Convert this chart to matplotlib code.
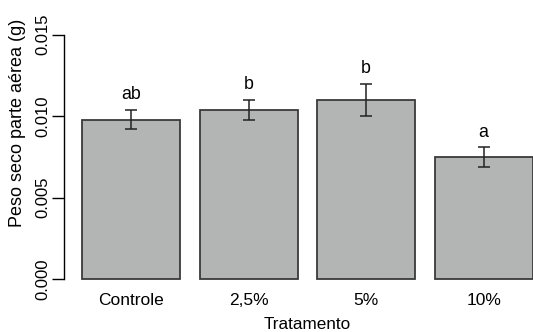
import numpy as np
import matplotlib
matplotlib.use("Agg")
import matplotlib.pyplot as plt

plt.rcParams["font.family"] = ["Liberation Sans", "DejaVu Sans"]

# data
tratamentos = ["Controle", "2,5%", "5%", "10%"]
media       = [0.00978, 0.01037, 0.01101, 0.00748]
erro        = [0.00060, 0.00062, 0.00098, 0.00060]
letras      = ["ab", "b", "b", "a"]

FILL = "#b3b5b5"
EDGE = "#3a3a3a"

fig = plt.figure(figsize=(5.33, 3.32), dpi=100)
ax = fig.add_axes([0.1201, 0.130, 0.913, 0.795])

# R barplot layout: width 1, space 0.2
x = 0.7 + 1.2 * np.arange(len(tratamentos))
ax.bar(x, media, width=1.0, color=FILL, edgecolor=EDGE, linewidth=1.3, zorder=2)
ax.errorbar(x, media, yerr=erro, fmt="none", ecolor="#222222",
            elinewidth=1.1, capsize=4, capthick=1.1, zorder=3)

for xi, m, e, l in zip(x, media, erro, letras):
    ax.text(xi, m + e + 0.0004, l, ha="center", va="bottom", fontsize=12.8)

ax.set_xlim(0.016, 4.984)
ax.set_ylim(-0.0006, 0.0156)

for s in ["top", "right", "bottom"]:
    ax.spines[s].set_visible(False)
ax.spines["left"].set_bounds(0, 0.015)
ax.spines["left"].set_linewidth(1.0)

ax.set_yticks([0.000, 0.005, 0.010, 0.015])
ax.set_yticklabels(["0.000", "0.005", "0.010", "0.015"], rotation=90,
                   va="center", fontsize=12)
ax.tick_params(axis="y", length=9, width=1.0, pad=1)

ax.set_xticks(x)
ax.set_xticklabels(tratamentos, fontsize=12.5)
ax.tick_params(axis="x", length=0, pad=3)

fig.text(18 / 533, 0.631, "Peso seco parte aérea (g)", rotation=90,
         ha="center", va="center", fontsize=13)
fig.text(307 / 533, (332 - 317) / 332, "Tratamento", ha="center", va="top",
         fontsize=12.3)

fig.savefig("out.png", dpi=100)
